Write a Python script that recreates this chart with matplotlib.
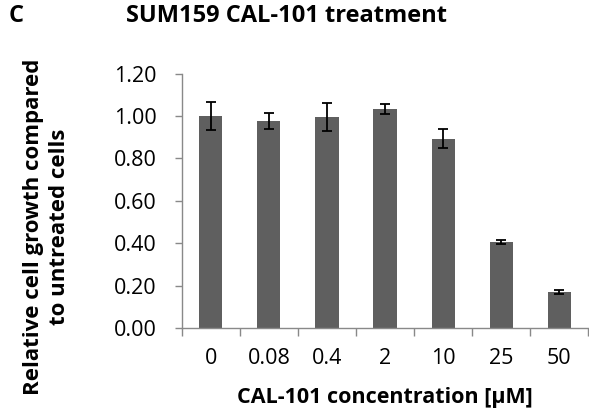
import matplotlib.pyplot as plt
import numpy as np

concentrations = ["0", "0.08", "0.4", "2", "10", "25", "50"]
growth = [1.00, 0.976, 0.997, 1.032, 0.894, 0.407, 0.171]
errors = [0.065, 0.038, 0.066, 0.023, 0.047, 0.009, 0.008]
yticks = [0.0, 0.2, 0.4, 0.6, 0.8, 1.0, 1.2]


def main() -> None:
    plt.rcParams["font.family"] = ["Open Sans", "DejaVu Sans"]
    fig = plt.figure(figsize=(5.89, 4.2), dpi=100)
    ax = fig.add_axes([0.3085, 0.218, 0.6905, 0.607])

    x = np.arange(len(concentrations))
    ax.bar(x, growth, width=0.4, color="#5f5f5f", yerr=errors,
           error_kw=dict(ecolor="black", elinewidth=1.3, capsize=3.3, capthick=1.3))

    ax.set_xlim(-0.5, len(concentrations) - 0.5)
    ax.set_ylim(0, 1.2)
    ax.set_yticks(yticks)
    ax.set_yticklabels([f"{v:.2f}" for v in yticks], fontsize=15.5)
    ax.set_xticks(x)
    ax.set_xticklabels(concentrations, fontsize=15.5)
    ax.set_xticks(np.arange(-0.5, len(concentrations)), minor=True)
    ax.tick_params(axis="x", which="major", length=0, pad=14)
    ax.tick_params(axis="x", which="minor", length=6, color="#898989", width=1)
    ax.tick_params(axis="y", length=5, color="#898989", width=1, pad=13)

    for side in ["top", "right"]:
        ax.spines[side].set_visible(False)
    for side in ["left", "bottom"]:
        ax.spines[side].set_color("#898989")
        ax.spines[side].set_linewidth(1)

    ax.set_xlabel("CAL-101 concentration [µM]", fontsize=15.5, fontweight="bold", va="center")
    ax.xaxis.set_label_coords(0.5, -0.27)
    ax.set_ylabel("Relative cell growth compared\nto untreated cells", fontsize=16,
                  fontweight="bold", va="center", linespacing=1.3)
    ax.yaxis.set_label_coords(-0.332, 0.40)
    fig.text(0.487, 0.962, "SUM159 CAL-101 treatment", fontsize=17, fontweight="bold",
             ha="center", va="center")
    fig.text(0.027, 0.962, "C", fontsize=17, fontweight="bold", ha="center", va="center")

    fig.savefig("out.png", dpi=100)


if __name__ == "__main__":
    main()
